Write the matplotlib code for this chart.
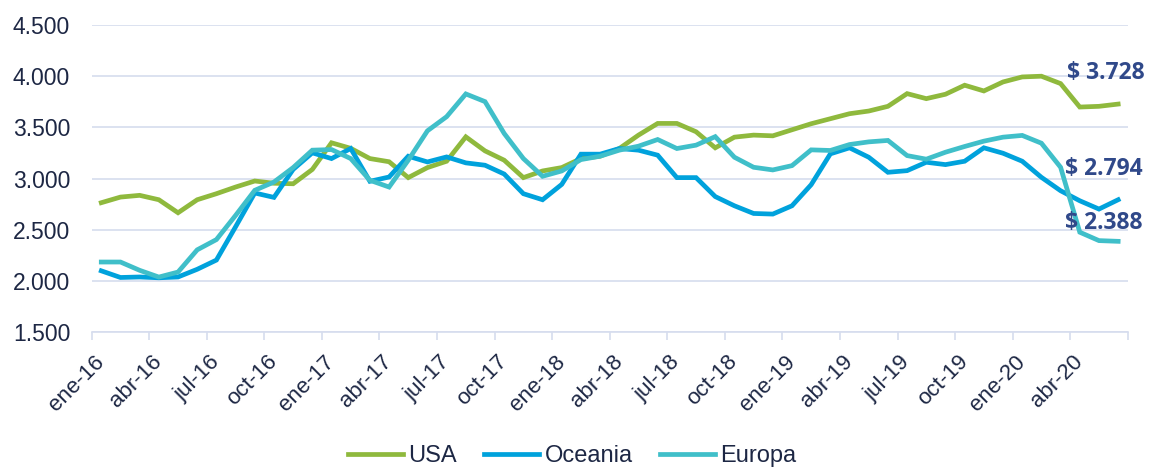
import matplotlib
matplotlib.use("Agg")
import matplotlib.pyplot as plt
from matplotlib.ticker import FuncFormatter, FixedLocator

# meses ene-16 ... jun-20
meses = ["ene", "feb", "mar", "abr", "may", "jun", "jul", "ago", "sep", "oct", "nov", "dic"]
periodos = [f"{m}-{a}" for a in range(16, 21) for m in meses][:54]

usa = [2765, 2820, 2837, 2794, 2667, 2794, 2853, 2918, 2977, 2955, 2950, 3090,
       3350, 3296, 3196, 3165, 3010, 3108, 3170, 3408, 3271, 3180, 3010, 3075,
       3108, 3196, 3219, 3294, 3425, 3539, 3539, 3458, 3301, 3405, 3425, 3418,
       3477, 3536, 3585, 3634, 3660, 3706, 3830, 3781, 3824, 3912, 3856, 3944,
       3993, 4000, 3928, 3699, 3706, 3728]
oceania = [2100, 2035, 2040, 2032, 2040, 2115, 2205, 2530, 2860, 2817, 3090, 3252,
           3196, 3294, 2974, 3016, 3219, 3163, 3212, 3154, 3131, 3045, 2853, 2794,
           2944, 3239, 3239, 3294, 3278, 3229, 3010, 3010, 2825, 2735, 2660, 2654,
           2735, 2941, 3242, 3301, 3209, 3062, 3078, 3160, 3137, 3170, 3301, 3248,
           3170, 3013, 2882, 2784, 2703, 2794]
europa = [2186, 2186, 2105, 2039, 2088, 2305, 2405, 2641, 2886, 2967, 3108, 3278,
          3284, 3196, 2984, 2918, 3180, 3467, 3605, 3827, 3752, 3441, 3196, 3023,
          3075, 3186, 3219, 3278, 3317, 3382, 3294, 3327, 3410, 3209, 3111, 3085,
          3127, 3281, 3275, 3333, 3359, 3373, 3225, 3190, 3258, 3314, 3366, 3405,
          3422, 3346, 3111, 2477, 2395, 2388]

series = [("USA", usa, "#8fb93d"), ("Oceania", oceania, "#00a2dc"), ("Europa", europa, "#40bfc9")]
# desplazamiento de la etiqueta final (pt)
offsets = {"USA": (-37, 22.5), "Oceania": (-38, 22), "Europa": (-38, 13)}

txt = "#1d2744"
lab = "#30498a"
grid = "#d6ddee"

plt.rcParams['font.family'] = ['Liberation Sans', 'DejaVu Sans']

fig = plt.figure(figsize=(11.49, 4.69), dpi=100)
ax = fig.add_axes([0.0798, 0.2915, 0.9017, 0.6552])

x = list(range(len(periodos)))
for nombre, vals, col in series:
    ax.plot(x, vals, color=col, lw=3.4, label=nombre, solid_joinstyle="miter")

for nombre, vals, col in series:
    ax.annotate("$ " + f"{vals[-1]:,}".replace(",", "."), xy=(x[-1], vals[-1]),
                xytext=offsets[nombre], textcoords="offset points",
                ha="left", va="center", fontsize=16.5, fontweight="bold",
                color=lab, family=["Open Sans", "DejaVu Sans"], annotation_clip=False)

ax.set_xlim(-0.5, len(periodos) - 0.5)
ax.set_ylim(1500, 4500)
ax.set_yticks(range(1500, 4501, 500))
ax.yaxis.set_major_formatter(FuncFormatter(lambda v, p: f"{int(v):,}".replace(",", ".")))
ax.tick_params(axis="y", length=0, pad=15.5, labelsize=16.5, labelcolor=txt)
ax.grid(axis="y", color=grid, lw=1.2)
ax.set_axisbelow(True)

ax.set_xticks(x[::3])
ax.set_xticklabels(periodos[::3], rotation=45, ha="right", va="center", rotation_mode="anchor")
ax.xaxis.set_minor_locator(FixedLocator([i - 0.5 for i in range(0, len(periodos) + 1, 3)]))
ax.tick_params(axis="x", which="major", length=0, pad=19, labelsize=16, labelcolor=txt)
ax.tick_params(axis="x", which="minor", length=6, width=1.2, color=grid)

for s in ["top", "right", "left"]:
    ax.spines[s].set_visible(False)
ax.spines["bottom"].set_color(grid)
ax.spines["bottom"].set_linewidth(1.2)

fig.legend(loc="center", bbox_to_anchor=(0.498, 0.027), ncol=3, frameon=False,
           fontsize=17, handlelength=2.33, handletextpad=0.21, columnspacing=1.18,
           labelcolor=txt, borderpad=0.1)

fig.savefig("out.png", dpi=100)
